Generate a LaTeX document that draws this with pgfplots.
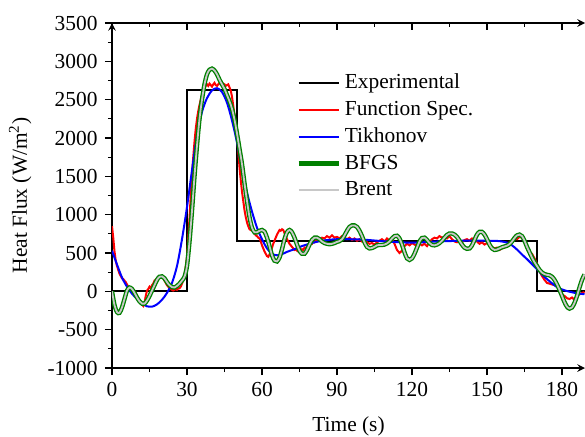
\documentclass[border=0pt]{standalone}
\usepackage{fontspec}
\setmainfont{Liberation Serif}
\usepackage{pgfplots}
\pgfplotsset{compat=1.18}
\definecolor{bfgsgreen}{RGB}{0,128,0}
\definecolor{brentgray}{RGB}{200,200,200}

\begin{document}
\fontsize{10.7}{12.8}\selectfont
\begin{tikzpicture}
\pgfplotsset{
  base/.style={scale only axis, width=236.5pt, height=172.5pt,
    at={(56pt,34pt)}, anchor=south west,
    xmin=0, xmax=189.2, ymin=-1000, ymax=3500,
    xtick={0,30,...,180}, minor x tick num=1,
    ytick={-1000,-500,...,3500}, minor y tick num=1,
    axis line style={-, line width=0.7pt},
    major tick length=3.5pt, minor tick length=2pt,
    every tick/.style={black, line width=0.6pt},
    /pgf/number format/assume math mode=true,
    /pgf/number format/1000 sep={}}}
% top border with inward ticks
\begin{axis}[base, axis x line=top, axis y line=none, xticklabels={}, tick align=inside]
\end{axis}
\begin{axis}[base, axis x line=bottom, axis y line=left, tick align=outside,
  xlabel={Time (s)}, ylabel={Heat Flux (W/m\textsuperscript{2})},
  xlabel style={at={(axis description cs:0.5,-0.183)}, anchor=base},
  ylabel style={at={(axis description cs:-0.18,0.5)}, anchor=base},
  legend cell align=left,
  legend style={draw=none, fill=none, row sep=0.6pt, at={(axis description cs:0.3765,0.877)}, anchor=north west},
  legend image code/.code={\draw[#1] (0pt,0pt) -- (20pt,0pt);}]
\addplot[black, line width=0.85pt] coordinates {(0,0) (30,0) (30,2630) (50,2630) (50,660) (170,660) (170,0) (190,0)};
\addlegendentry{Experimental}
\addplot[red, line width=1pt] table {
0 850
0.5 700
1 520
1.5 400
2 330
2.5 280
3 230
3.5 200
4 170
4.5 160
5 140
5.5 120
6 90
6.5 60
7 30
7.5 10
8 -10
8.5 -20
9 -30
9.5 -20
10 -60
10.5 -90
11 -110
11.5 -140
12 -170
12.5 -190
13 -150
13.5 -60
14 10
14.5 30
15 60
15.5 40
16 80
16.5 100
17 140
17.5 150
18 170
18.5 180
19 190
19.5 195
20 190
20.5 170
21 140
21.5 110
22 80
22.5 60
23 40
23.5 30
24 20
24.5 10
25 20
25.5 30
26 20
26.5 40
27 40
27.5 60
28 100
28.5 150
29 220
29.5 320
30 450
30.5 700
31 950
31.5 1250
32 1520
32.5 1750
33 1950
33.5 2120
34 2250
34.5 2350
35 2430
35.5 2500
36 2560
36.5 2610
37 2650
37.5 2680
38 2700
38.5 2680
39 2710
39.5 2690
40 2670
40.5 2700
41 2720
41.5 2690
42 2680
42.5 2700
43 2720
43.5 2700
44 2690
44.5 2710
45 2700
45.5 2680
46 2690
46.5 2700
47 2660
47.5 2620
48 2540
48.5 2420
49 2300
49.5 2160
50 2020
50.5 1830
51 1620
51.5 1450
52 1300
52.5 1180
53 1060
53.5 970
54 900
54.5 850
55 810
55.5 800
56 830
56.5 820
57 760
57.5 730
58 720
58.5 700
59 690
59.5 650
60 600
60.5 560
61 520
61.5 490
62 460
62.5 450
63 480
63.5 520
64 570
64.5 620
65 660
65.5 700
66 740
66.5 770
67 800
67.5 790
68 810
68.5 800
69 760
69.5 720
70 680
70.5 650
71 620
71.5 600
72 580
72.5 560
73 540
73.5 550
74 530
74.5 520
75 540
75.5 530
76 550
76.5 540
77 570
77.5 560
78 590
78.5 610
79 600
79.5 630
80 620
80.5 650
81 640
81.5 660
82 650
83 680
84 700
85 690
86 720
87 700
88 730
89 700
90 710
91 690
92 720
93 700
94 680
95 700
96 670
97 690
98 660
99 680
100 650
101 670
102 640
103 620
104 630
105 610
106 640
107 660
108 680
109 650
110 690
111 660
112 680
113 620
114 540
115 500
116 530
117 590
118 620
119 600
120 630
121 610
122 590
123 620
124 600
125 620
126 590
127 640
128 680
129 700
130 690
131 720
132 700
133 710
134 690
135 720
136 680
137 650
138 640
139 660
140 640
141 670
142 680
143 660
144 690
145 670
146 650
147 620
148 640
149 610
150 630
151 600
152 580
153 560
154 570
155 540
156 560
157 570
158 600
159 640
160 660
161 690
162 680
163 710
164 700
165 660
166 560
167 500
168 490
169 430
170 360
171 260
172 200
173 150
174 110
175 100
176 90
177 80
178 70
179 20
180 -40
181 -60
182 -90
183 -100
184 -80
185 -110
186 -60
187 -40
188 -20
189 -10
};
\addlegendentry{Function Spec.}
\addplot[blue, line width=1pt, smooth] table {
0 530
2 350
4 180
6 60
8 -30
10 -100
12 -160
14 -195
16 -200
18 -170
20 -110
22 -20
24 110
26 330
28 680
30 1100
32 1580
34 2030
36 2340
38 2520
40 2620
42 2650
44 2600
46 2460
48 2230
50 1940
52 1590
54 1290
56 1040
58 830
60 680
62 560
64 490
66 470
68 485
70 515
73 550
76 590
80 630
84 660
90 680
100 675
110 650
120 635
130 650
140 660
150 660
155 655
158 635
160 600
162 545
164 480
166 420
168 355
170 290
172 220
174 160
176 105
178 55
180 25
183 -5
186 -25
189 -38
};
\addlegendentry{Tikhonov}
\pgfplotstableread{
t q
0 0
1 -180
2 -270
3 -280
4 -210
5 -100
6 10
7 50
8 30
9 -20
10 -80
11 -130
12 -160
13 -160
14 -120
15 -60
16 10
17 80
18 150
19 190
20 195
21 170
22 120
23 80
24 55
25 50
26 70
27 100
28 140
29 190
30 330
31 650
32 1050
33 1500
34 1900
35 2250
36 2500
37 2700
38 2830
39 2890
40 2905
41 2880
42 2830
43 2760
44 2700
45 2640
46 2560
47 2480
48 2380
49 2240
50 2060
51 1860
52 1660
53 1410
54 1180
55 970
56 830
57 770
58 770
59 790
60 800
61 780
62 700
63 590
64 470
65 400
66 390
67 440
68 550
69 680
70 770
71 800
72 770
73 700
74 610
75 530
76 490
77 490
78 540
79 610
80 670
81 700
82 700
83 680
84 650
85 630
86 620
87 615
88 620
89 630
90 645
91 655
92 680
93 730
94 790
95 840
96 860
97 860
98 840
99 790
100 720
101 640
102 580
103 560
104 565
105 580
106 600
107 605
108 605
109 610
110 625
111 650
112 690
113 720
114 725
115 690
116 610
117 510
118 430
119 410
120 430
121 490
122 570
123 650
124 695
125 700
126 670
127 630
128 605
129 600
130 610
131 630
132 660
133 700
134 735
135 755
136 755
137 740
138 710
139 660
140 610
141 570
142 555
143 560
144 600
145 670
146 740
147 775
148 775
149 740
150 680
151 610
152 560
153 540
154 545
155 560
156 575
157 585
158 595
159 615
160 650
161 695
162 730
163 740
164 720
165 660
166 580
167 510
168 440
169 380
170 330
171 280
172 245
173 225
174 215
175 210
176 190
177 150
178 90
179 20
180 -60
181 -140
182 -200
183 -225
184 -210
185 -150
186 -60
187 50
188 150
189 220
}\bfgsdata
\addplot[bfgsgreen, line width=2.2pt, smooth] table {\bfgsdata};
\addlegendentry{BFGS}
\addplot[brentgray, line width=0.9pt, smooth] table {\bfgsdata};
\addlegendentry{Brent}
\end{axis}
\pgfresetboundingbox
\path (0,0) rectangle (292.5pt,218pt);
\end{tikzpicture}
\end{document}
